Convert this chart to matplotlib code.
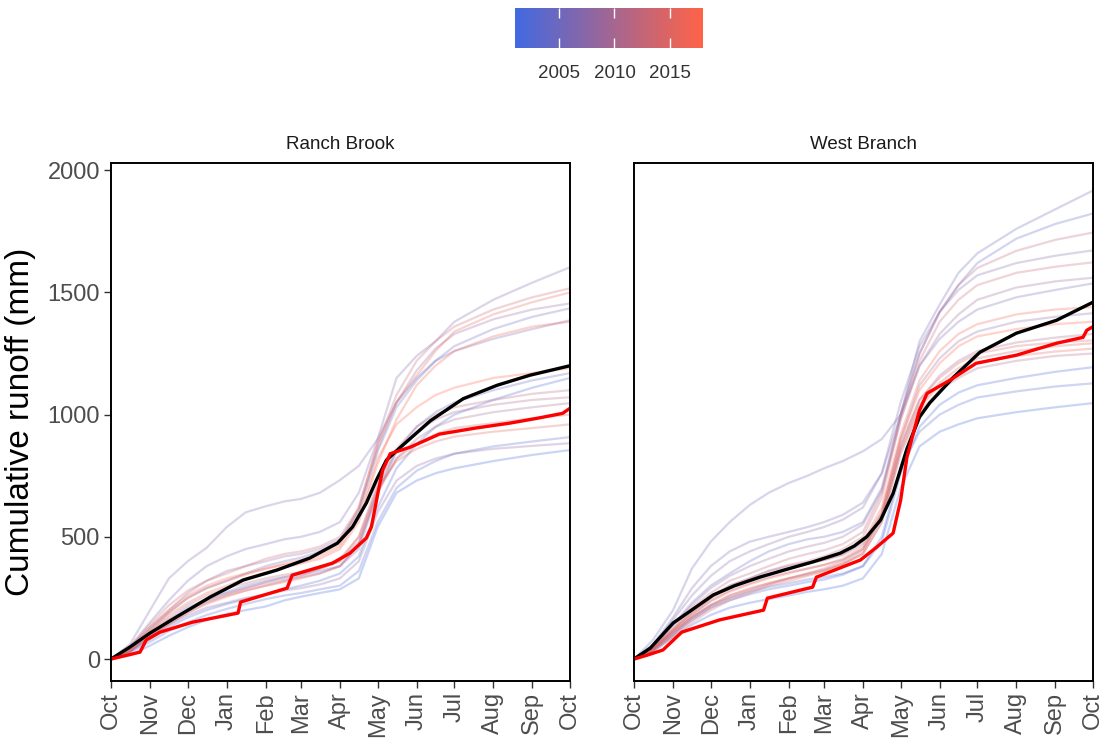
import matplotlib
matplotlib.use("Agg")
import matplotlib.pyplot as plt
import numpy as np
from matplotlib.colors import LinearSegmentedColormap, Normalize
from matplotlib.cm import ScalarMappable

plt.rcParams['font.family'] = ['Liberation Sans', 'DejaVu Sans']

# day of water year (Oct 1 = 0) for the yearly curves
knot_days = [0, 15, 31, 46, 61, 76, 92, 107, 123, 138, 151, 166,
             182, 197, 212, 227, 243, 258, 273, 304, 335, 365]

month_days = [0, 31, 61, 92, 123, 151, 182, 212, 243, 273, 304, 335, 365]
month_labels = ["Oct", "Nov", "Dec", "Jan", "Feb", "Mar", "Apr",
                "May", "Jun", "Jul", "Aug", "Sep", "Oct"]

years = list(range(2001, 2019))

# Ranch Brook cumulative runoff (mm), one row per year
ranch_runoff = [
    [0, 15, 55, 95, 130, 160, 185, 200, 215, 240, 255, 270, 285, 330, 540, 680, 730, 760, 780, 810, 835, 855],
    [0, 30, 80, 130, 170, 200, 225, 245, 265, 285, 300, 320, 350, 420, 620, 780, 880, 950, 1000, 1060, 1110, 1150],
    [0, 25, 70, 115, 150, 180, 205, 225, 245, 260, 270, 285, 300, 360, 560, 700, 770, 810, 840, 870, 890, 908],
    [0, 35, 100, 160, 210, 245, 275, 300, 320, 335, 345, 360, 380, 450, 680, 850, 950, 1010, 1050, 1100, 1140, 1170],
    [0, 40, 120, 190, 250, 290, 320, 350, 380, 400, 415, 440, 480, 600, 850, 1030, 1140, 1220, 1280, 1350, 1400, 1435],
    [0, 50, 150, 240, 320, 380, 420, 450, 470, 490, 500, 520, 560, 680, 900, 1050, 1150, 1220, 1260, 1310, 1350, 1386],
    [0, 60, 200, 330, 400, 455, 540, 600, 625, 645, 655, 680, 732, 790, 900, 1150, 1240, 1300, 1380, 1470, 1540, 1603],
    [0, 30, 90, 140, 180, 210, 230, 250, 265, 280, 290, 305, 330, 400, 600, 730, 790, 820, 840, 860, 872, 883],
    [0, 45, 130, 200, 270, 320, 360, 380, 400, 420, 430, 450, 490, 610, 860, 1050, 1180, 1270, 1330, 1390, 1430, 1455],
    [0, 30, 90, 150, 200, 240, 270, 290, 310, 325, 335, 350, 380, 470, 680, 820, 900, 950, 980, 1010, 1030, 1047],
    [0, 35, 100, 160, 200, 235, 265, 290, 315, 335, 350, 370, 400, 480, 700, 850, 930, 980, 1010, 1040, 1060, 1071],
    [0, 40, 110, 170, 220, 260, 290, 310, 330, 345, 355, 370, 400, 500, 720, 860, 950, 1000, 1030, 1060, 1085, 1100],
    [0, 50, 140, 220, 280, 320, 350, 380, 410, 430, 440, 460, 500, 620, 880, 1080, 1220, 1300, 1360, 1430, 1480, 1517],
    [0, 30, 90, 140, 190, 230, 260, 280, 300, 315, 330, 350, 380, 470, 690, 820, 880, 920, 945, 965, 985, 1000],
    [0, 35, 95, 145, 190, 225, 255, 280, 300, 320, 340, 370, 410, 500, 700, 810, 860, 890, 910, 930, 945, 960],
    [0, 40, 120, 190, 250, 290, 320, 345, 370, 390, 405, 430, 470, 620, 880, 1050, 1160, 1260, 1340, 1410, 1460, 1500],
    [0, 35, 110, 180, 230, 270, 300, 330, 355, 375, 390, 410, 450, 560, 800, 980, 1120, 1200, 1260, 1320, 1360, 1380],
    [0, 45, 130, 200, 260, 300, 330, 350, 370, 385, 395, 420, 460, 580, 820, 960, 1030, 1080, 1110, 1150, 1170, 1190],
]

# West Branch cumulative runoff (mm), one row per year
west_runoff = [
    [0, 30, 90, 140, 180, 210, 230, 245, 260, 275, 285, 300, 330, 430, 700, 870, 930, 960, 985, 1010, 1030, 1047],
    [0, 35, 100, 160, 210, 240, 265, 285, 300, 315, 325, 345, 380, 480, 760, 950, 1040, 1090, 1120, 1150, 1175, 1194],
    [0, 40, 110, 170, 220, 250, 275, 295, 310, 325, 335, 350, 380, 500, 780, 930, 1000, 1040, 1070, 1095, 1115, 1128],
    [0, 45, 140, 230, 300, 350, 400, 440, 470, 490, 500, 520, 560, 700, 1000, 1250, 1420, 1530, 1620, 1720, 1780, 1823],
    [0, 78, 200, 370, 480, 560, 630, 680, 720, 750, 780, 810, 850, 900, 1000, 1300, 1450, 1580, 1660, 1760, 1840, 1917],
    [0, 60, 170, 290, 380, 440, 480, 500, 520, 540, 560, 590, 640, 760, 1000, 1200, 1310, 1380, 1430, 1480, 1510, 1537],
    [0, 55, 160, 260, 340, 400, 440, 470, 500, 520, 540, 570, 620, 760, 1050, 1280, 1420, 1510, 1570, 1620, 1650, 1672],
    [0, 40, 120, 190, 250, 300, 330, 360, 380, 395, 405, 425, 470, 600, 900, 1120, 1230, 1300, 1340, 1380, 1400, 1415],
    [0, 50, 140, 220, 290, 340, 380, 410, 440, 460, 475, 500, 550, 690, 980, 1200, 1330, 1410, 1470, 1520, 1545, 1560],
    [0, 40, 110, 180, 240, 280, 310, 335, 355, 370, 385, 405, 450, 580, 870, 1060, 1160, 1220, 1260, 1295, 1315, 1330],
    [0, 35, 100, 160, 210, 250, 280, 305, 330, 350, 365, 390, 430, 560, 840, 1010, 1100, 1150, 1190, 1220, 1240, 1250],
    [0, 45, 130, 210, 270, 320, 350, 380, 410, 430, 445, 470, 520, 680, 1000, 1250, 1420, 1530, 1600, 1670, 1715, 1745],
    [0, 40, 120, 200, 260, 300, 330, 360, 385, 400, 420, 450, 500, 660, 980, 1220, 1380, 1470, 1530, 1580, 1605, 1623],
    [0, 35, 100, 170, 220, 260, 290, 310, 330, 350, 370, 400, 450, 580, 860, 1040, 1130, 1190, 1230, 1260, 1280, 1292],
    [0, 30, 90, 150, 200, 240, 270, 300, 320, 340, 360, 390, 440, 590, 880, 1060, 1150, 1210, 1250, 1280, 1295, 1304],
    [0, 40, 110, 170, 220, 260, 285, 310, 330, 345, 360, 385, 430, 560, 850, 1030, 1120, 1170, 1210, 1240, 1258, 1270],
    [0, 45, 120, 190, 250, 290, 320, 345, 370, 390, 405, 430, 480, 620, 920, 1140, 1260, 1330, 1370, 1410, 1430, 1440],
    [0, 40, 115, 180, 235, 275, 305, 330, 350, 370, 385, 410, 460, 600, 900, 1100, 1210, 1280, 1320, 1350, 1370, 1380],
]

# long-term mean curves
ranch_mean_days = [0, 15, 31, 52, 79, 105, 132, 158, 180, 192, 203, 211, 219, 232, 254, 280, 307, 333, 365]
ranch_mean_vals = [0, 49, 106, 172, 254, 323, 364, 413, 474, 540, 638, 732, 814, 875, 975, 1065, 1120, 1161, 1200]
west_mean_days = [0, 13, 31, 63, 80, 100, 120, 142, 164, 175, 185, 196, 206, 217, 227, 235, 254, 275, 304, 336, 365]
west_mean_vals = [0, 45, 147, 262, 300, 335, 365, 397, 433, 462, 500, 568, 678, 860, 990, 1047, 1153, 1255, 1333, 1386, 1460]

# current year
ranch_cur_days = [0, 23, 28, 39, 65, 101, 103, 140, 144, 176, 190, 203, 207, 213, 216, 222, 238, 261, 290, 317, 339, 359, 365]
ranch_cur_vals = [0, 28, 78, 110, 151, 188, 233, 290, 343, 392, 433, 495, 540, 700, 773, 840, 867, 920, 945, 965, 985, 1005, 1026]
west_cur_days = [0, 10, 23, 38, 68, 103, 106, 142, 145, 180, 193, 206, 212, 217, 227, 233, 251, 272, 304, 336, 357, 360, 365]
west_cur_vals = [0, 15, 37, 110, 160, 200, 249, 294, 335, 405, 458, 515, 650, 826, 1018, 1087, 1140, 1210, 1243, 1292, 1316, 1345, 1360]

cmap = LinearSegmentedColormap.from_list("yr", ["royalblue", "tomato"])
norm = Normalize(vmin=min(years), vmax=max(years))

fig = plt.figure(figsize=(11.05, 7.42), dpi=100)
ax1 = fig.add_axes([0.1005, 0.0822, 0.4154, 0.698])
ax2 = fig.add_axes([0.5738, 0.0822, 0.4154, 0.698])

panels = [
    (ax1, "Ranch Brook", ranch_runoff, ranch_mean_days, ranch_mean_vals, ranch_cur_days, ranch_cur_vals),
    (ax2, "West Branch", west_runoff, west_mean_days, west_mean_vals, west_cur_days, west_cur_vals),
]

for ax, title, runoff, mdays, mvals, cdays, cvals in panels:
    for yr, vals in zip(years, runoff):
        ax.plot(knot_days, vals, color=cmap(norm(yr)), alpha=0.28, lw=1.6)
    ax.plot(mdays, mvals, color="black", lw=2.4)
    ax.plot(cdays, cvals, color="red", lw=2.4)

    ax.set_xlim(0, 365)
    ax.set_ylim(-90, 2029)
    ax.set_xticks(month_days)
    ax.set_xticklabels(month_labels, rotation=90)
    ax.set_yticks([0, 500, 1000, 1500, 2000])
    ax.tick_params(axis="both", length=5, width=1, color="#333333",
                   labelsize=17, labelcolor="#4D4D4D", pad=3)
    for s in ax.spines.values():
        s.set_linewidth(1.4)
        s.set_color("black")
    ax.set_title(title, fontsize=13.5, color="#1A1A1A", pad=10)

ax2.tick_params(axis="y", left=False, labelleft=False)
ax1.set_ylabel("Cumulative runoff (mm)", fontsize=24, color="black", labelpad=8)

# year colour scale
cax = fig.add_axes([0.466, 0.9353, 0.1701, 0.0539])
cb = fig.colorbar(ScalarMappable(norm=norm, cmap=cmap), cax=cax, orientation="horizontal")
cb.outline.set_visible(False)
cb.set_ticks([2005, 2010, 2015])
cax.tick_params(direction="in", length=7, width=1, color="white", top=True,
                labelsize=13.5, labelcolor="#333333", pad=12)

fig.savefig("out.png", dpi=100)
